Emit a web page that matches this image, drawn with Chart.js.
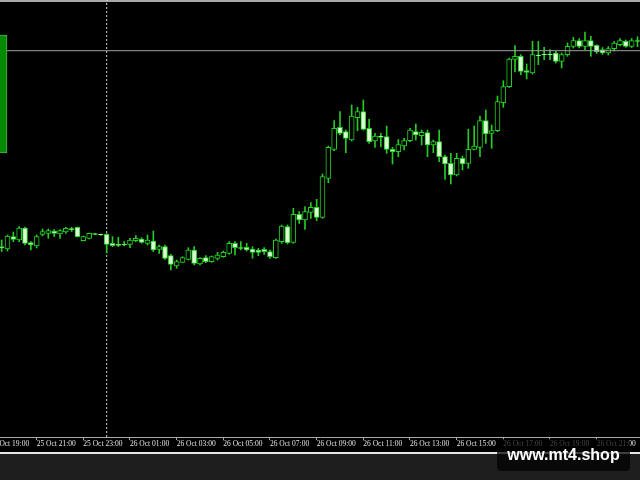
<!DOCTYPE html>
<html>
<head>
<meta charset="utf-8">
<script src="https://cdn.jsdelivr.net/npm/chart.js@4"></script>
<style>
html,body{margin:0;padding:0;background:#1e1e1e;overflow:hidden;width:640px;height:480px}
#wrap{position:relative;width:640px;height:480px}
#c{position:absolute;left:0;top:0}
#mark{position:absolute;left:497px;top:439px;width:133px;height:32px;background:rgba(0,0,0,0.72);border-radius:4px;color:#ffffff;font:bold 16px "Liberation Sans",Arial,sans-serif;text-align:center;line-height:32px}
</style>
</head>
<body>
<div id="wrap">
<canvas id="c" width="640" height="480"></canvas>
<div id="mark">www.mt4.shop</div>
</div>
<script>
// ---- data (M15 candles) ----
const candleTimes = [
"25 Oct 19:30","25 Oct 19:45","25 Oct 20:00","25 Oct 20:15","25 Oct 20:30","25 Oct 20:45",
"25 Oct 21:00","25 Oct 21:15","25 Oct 21:30","25 Oct 21:45","25 Oct 22:00","25 Oct 22:15",
"25 Oct 22:30","25 Oct 22:45","25 Oct 23:00","25 Oct 23:15","25 Oct 23:30","25 Oct 23:45",
"26 Oct 00:00","26 Oct 00:15","26 Oct 00:30","26 Oct 00:45","26 Oct 01:00","26 Oct 01:15",
"26 Oct 01:30","26 Oct 01:45","26 Oct 02:00","26 Oct 02:15","26 Oct 02:30","26 Oct 02:45",
"26 Oct 03:00","26 Oct 03:15","26 Oct 03:30","26 Oct 03:45","26 Oct 04:00","26 Oct 04:15",
"26 Oct 04:30","26 Oct 04:45","26 Oct 05:00","26 Oct 05:15","26 Oct 05:30","26 Oct 05:45",
"26 Oct 06:00","26 Oct 06:15","26 Oct 06:30","26 Oct 06:45","26 Oct 07:00","26 Oct 07:15",
"26 Oct 07:30","26 Oct 07:45","26 Oct 08:00","26 Oct 08:15","26 Oct 08:30","26 Oct 08:45",
"26 Oct 09:00","26 Oct 09:15","26 Oct 09:30","26 Oct 09:45","26 Oct 10:00","26 Oct 10:15",
"26 Oct 10:30","26 Oct 10:45","26 Oct 11:00","26 Oct 11:15","26 Oct 11:30","26 Oct 11:45",
"26 Oct 12:00","26 Oct 12:15","26 Oct 12:30","26 Oct 12:45","26 Oct 13:00","26 Oct 13:15",
"26 Oct 13:30","26 Oct 13:45","26 Oct 14:00","26 Oct 14:15","26 Oct 14:30","26 Oct 14:45",
"26 Oct 15:00","26 Oct 15:15","26 Oct 15:30","26 Oct 15:45","26 Oct 16:00","26 Oct 16:15",
"26 Oct 16:30","26 Oct 16:45","26 Oct 17:00","26 Oct 17:15","26 Oct 17:30","26 Oct 17:45",
"26 Oct 18:00","26 Oct 18:15","26 Oct 18:30","26 Oct 18:45","26 Oct 19:00","26 Oct 19:15",
"26 Oct 19:30","26 Oct 19:45","26 Oct 20:00","26 Oct 20:15","26 Oct 20:30","26 Oct 20:45",
"26 Oct 21:00","26 Oct 21:15","26 Oct 21:30","26 Oct 21:45","26 Oct 22:00","26 Oct 22:15",
"26 Oct 22:30","26 Oct 22:45"
];

const openPrices = [
1975.35,1975.10,1976.33,1976.00,1977.20,1975.73,1975.40,1976.57,1976.65,1976.90,
1976.60,1976.80,1977.15,1977.27,1975.93,1976.17,1976.63,1976.57,1976.57,1975.67,
1975.57,1975.60,1975.57,1975.93,1976.10,1975.67,1975.90,1975.07,1975.33,1974.43,
1973.40,1973.77,1974.07,1975.00,1973.60,1974.23,1973.83,1974.17,1974.33,1974.67,
1975.67,1975.23,1975.27,1975.10,1975.00,1975.07,1974.83,1974.23,1975.83,1977.33,
1975.77,1978.57,1978.00,1978.77,1979.27,1978.27,1982.17,1985.07,1987.27,1986.83,
1986.00,1988.23,1988.83,1987.17,1985.90,1986.40,1986.33,1985.07,1984.83,1985.40,
1985.93,1986.83,1986.43,1986.73,1985.50,1985.83,1984.33,1983.67,1982.50,1984.17,
1983.67,1985.07,1985.27,1987.93,1986.67,1986.93,1989.73,1991.33,1994.05,1994.37,
1992.95,1992.70,1994.50,1994.57,1994.60,1994.70,1993.87,1994.53,1995.37,1995.93,
1995.37,1995.93,1995.47,1995.03,1994.70,1995.13,1995.53,1995.87,1995.37,1995.93
];
const highPrices = [
1976.00,1976.50,1976.80,1977.33,1977.30,1975.83,1976.50,1977.10,1977.10,1977.05,
1977.05,1977.27,1977.27,1977.30,1976.40,1976.70,1976.67,1976.60,1976.65,1976.33,
1976.27,1975.83,1976.17,1976.43,1976.23,1976.50,1976.90,1975.50,1975.50,1974.57,
1974.00,1974.33,1975.23,1975.33,1974.23,1974.43,1974.40,1974.77,1974.90,1975.83,
1975.83,1975.83,1975.67,1975.33,1975.17,1975.23,1975.00,1976.10,1977.50,1977.50,
1979.17,1978.83,1979.33,1979.73,1980.07,1982.60,1985.40,1987.93,1988.83,1987.00,
1989.50,1989.27,1990.00,1988.07,1986.67,1986.67,1987.40,1985.27,1986.05,1986.17,
1987.17,1987.60,1987.00,1987.00,1986.00,1987.00,1984.50,1984.67,1984.67,1984.40,
1987.07,1987.40,1988.40,1989.00,1987.50,1990.40,1991.93,1994.20,1995.45,1994.53,
1993.60,1995.87,1995.87,1995.27,1995.03,1994.87,1994.70,1995.70,1996.27,1996.15,
1996.80,1996.37,1995.53,1995.25,1995.35,1995.85,1996.15,1996.00,1996.15,1996.33
];
const lowPrices = [
1974.85,1974.90,1975.83,1975.83,1975.50,1975.00,1975.20,1976.40,1976.17,1976.35,
1976.17,1976.67,1976.85,1976.30,1975.90,1976.10,1976.50,1976.45,1974.70,1975.33,
1975.33,1975.40,1975.23,1975.83,1975.67,1975.50,1974.83,1974.67,1974.07,1973.00,
1973.17,1973.73,1974.00,1973.50,1973.50,1973.73,1973.77,1974.00,1974.27,1974.57,
1974.50,1975.00,1974.90,1974.17,1974.43,1974.57,1974.17,1974.17,1975.67,1975.60,
1975.67,1977.67,1977.07,1978.17,1977.93,1978.17,1981.73,1984.93,1986.50,1984.73,
1985.90,1986.93,1987.00,1985.67,1985.27,1985.33,1984.67,1983.60,1984.33,1985.00,
1985.83,1986.00,1985.50,1984.33,1984.73,1983.83,1982.07,1981.60,1982.40,1983.00,
1983.17,1985.00,1984.33,1985.67,1985.17,1986.83,1989.27,1991.27,1992.80,1992.53,
1992.10,1992.60,1993.53,1994.03,1994.03,1993.70,1993.20,1994.37,1995.20,1995.20,
1995.03,1994.37,1994.65,1994.55,1994.50,1994.90,1995.40,1995.27,1995.25,1995.33
];
const closePrices = [
1975.20,1976.40,1976.07,1977.20,1975.67,1975.50,1976.33,1976.85,1976.95,1976.67,
1976.93,1977.17,1977.03,1976.33,1976.33,1976.67,1976.57,1976.50,1975.57,1975.43,
1975.47,1975.50,1976.00,1976.17,1975.77,1976.00,1975.00,1975.33,1974.17,1973.57,
1973.83,1974.23,1975.00,1973.67,1974.17,1973.83,1974.33,1974.50,1974.77,1975.67,
1975.23,1975.17,1975.00,1974.77,1974.77,1974.83,1974.33,1976.00,1977.40,1975.73,
1978.57,1978.00,1978.83,1979.27,1978.27,1982.33,1985.27,1987.17,1986.67,1986.17,
1988.40,1988.83,1987.07,1985.83,1986.40,1986.27,1985.07,1984.83,1985.53,1985.93,
1987.00,1986.50,1986.77,1985.50,1985.83,1984.33,1983.60,1982.50,1984.17,1983.60,
1985.07,1985.40,1987.93,1986.60,1986.93,1989.83,1991.33,1994.10,1994.37,1992.87,
1992.75,1994.53,1994.43,1994.50,1994.53,1993.87,1994.53,1995.37,1995.93,1995.37,
1995.93,1995.37,1994.80,1994.70,1995.13,1995.70,1995.93,1995.37,1995.93,1995.87
];

const tickLabels = [
"25 Oct 19:00","25 Oct 21:00","25 Oct 23:00","26 Oct 01:00","26 Oct 03:00","26 Oct 05:00",
"26 Oct 07:00","26 Oct 09:00","26 Oct 11:00","26 Oct 13:00","26 Oct 15:00","26 Oct 17:00",
"26 Oct 19:00","26 Oct 21:00"
];

const separatorTime = "26 Oct 00:00";   // day separator (dashed)
const levelPrice = 1994.93;              // horizontal line
const panelRange = [1984.70, 1996.50];   // green block at the left edge

// ---- view ----
const xMin = -0.286, xMax = 109.43;
const yMin = 1956.3, yMax = 2000.0;

function toMin(s){
  const p = s.split(' ');
  const hm = p[2].split(':');
  return (+p[0])*1440 + (+hm[0])*60 + (+hm[1]);
}
const t0 = toMin(candleTimes[0]);
const tickPos = tickLabels.map(l => (toMin(l) - t0) / 15);
const sepIndex = candleTimes.indexOf(separatorTime);

const GREEN = '#24cc24';
const BEAR_FILL = '#d8fcd0';
const BULL_FILL = '#000000';

const wickData = candleTimes.map((t, i) => ({x: i, y: [lowPrices[i], highPrices[i]]}));
const bodyData = candleTimes.map((t, i) => ({x: i, y: [openPrices[i], closePrices[i]]}));
const bodyFill = candleTimes.map((t, i) => closePrices[i] > openPrices[i] ? BULL_FILL : BEAR_FILL);

const bgPlugin = {
  id: 'bg',
  beforeDraw(chart){
    const c = chart.ctx;
    c.save();
    c.fillStyle = '#1e1e1e'; c.fillRect(0, 0, 640, 480);
    c.fillStyle = '#000000'; c.fillRect(0, 0, 640, 453);
    c.fillStyle = '#a8a8a8'; c.fillRect(0, 0, 640, 2);
    c.fillStyle = '#e6e6e6'; c.fillRect(0, 452, 640, 2);
    c.restore();
  }
};

new Chart(document.getElementById('c'), {
  type: 'bar',
  data: {
    datasets: [
      {
        label: 'panel', type: 'bar',
        data: [{x: xMin, y: panelRange}],
        backgroundColor: '#068a06', borderColor: '#4fae4f', borderWidth: 1,
        borderSkipped: false, barThickness: 14, grouped: false, order: 0
      },
      {
        label: 'level', type: 'line',
        data: [{x: xMin, y: levelPrice}, {x: xMax, y: levelPrice}],
        borderColor: '#9e9e9e', borderWidth: 1, pointRadius: 0, order: 1
      },
      {
        label: 'bodies', type: 'bar',
        data: bodyData,
        backgroundColor: bodyFill, borderColor: GREEN, borderWidth: 1,
        borderSkipped: false, barThickness: 5, grouped: false, order: 2
      },
      {
        label: 'wicks', type: 'bar',
        data: wickData,
        backgroundColor: GREEN, borderWidth: 0,
        barThickness: 1, grouped: false, order: 3
      },
      {
        label: 'separator', type: 'line',
        data: [{x: sepIndex, y: yMin}, {x: sepIndex, y: yMax}],
        borderColor: '#d0d0d0', borderWidth: 1, borderDash: [2, 2],
        pointRadius: 0, order: 4
      }
    ]
  },
  options: {
    responsive: false,
    animation: false,
    events: [],
    layout: { padding: 0, autoPadding: false },
    plugins: { legend: { display: false }, tooltip: { enabled: false } },
    scales: {
      x: {
        type: 'linear', min: xMin, max: xMax, offset: false,
        border: { display: true, color: '#a8a8a8', width: 1 },
        grid: { display: true, drawOnChartArea: false, drawTicks: true, tickLength: 3, color: '#a8a8a8', offset: false },
        ticks: {
          autoSkip: false, maxRotation: 0, minRotation: 0, align: 'start', padding: 0,
          color: '#e2e2e2',
          font: { family: '"Liberation Serif", serif', size: 7.5 },
          callback: (v, i) => tickLabels[i]
        },
        afterBuildTicks: (s) => { s.ticks = tickPos.map(v => ({value: v})); },
        afterFit: (s) => {
          s.height = 43;
          s.paddingLeft = 0; s.paddingRight = 0; s.paddingTop = 0; s.paddingBottom = 0;
        }
      },
      y: { display: false, min: yMin, max: yMax }
    }
  },
  plugins: [bgPlugin]
});
</script>
</body>
</html>
